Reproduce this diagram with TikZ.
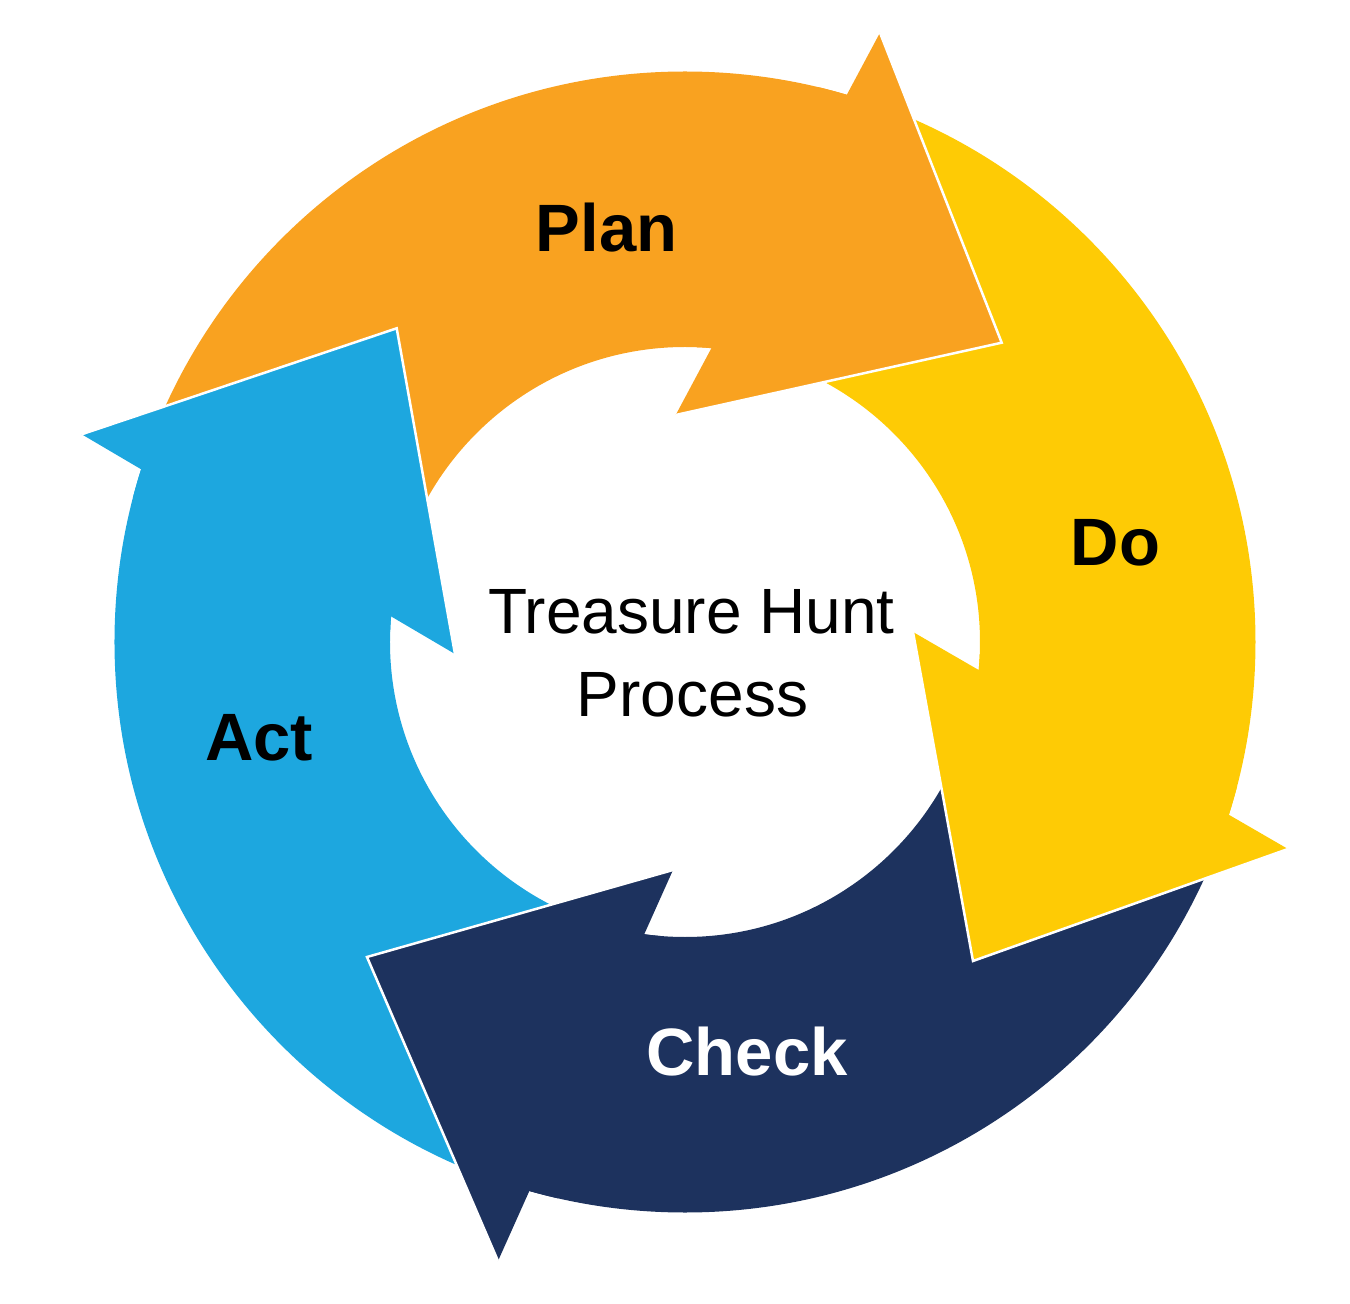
\documentclass[tikz,border=0pt]{standalone}
\usepackage{fontspec}
\setmainfont{Liberation Sans}
\usetikzlibrary{calc}
\definecolor{planc}{HTML}{F9A220}
\definecolor{doc}{HTML}{FECB05}
\definecolor{checkc}{HTML}{1D325E}
\definecolor{actc}{HTML}{1DA7DF}
\begin{document}
\begin{tikzpicture}[x=1pt,y=1pt,
  lbl/.style={anchor=base, inner sep=0pt, font=\fontsize{67}{80}\selectfont\bfseries},
  ctr/.style={anchor=base, inner sep=0pt, font=\fontsize{64}{82}\selectfont},
  headedge/.style={draw=white, line width=2.5pt, line join=miter},
  ring/.style={even odd rule}]
\useasboundingbox (-685,-662) rectangle (665,642);
\def\Ro{570.5}
\def\Ri{295}
% arrowhead vertices: outer barb, tip, inner barb
\coordinate (plan-Bo) at (195,609.3);
\coordinate (plan-T)  at (316.7,299.3);
\coordinate (plan-Bi) at (-9.3,227);
\coordinate (do-Bo) at (603,-207);
\coordinate (do-T)  at (288,-319);
\coordinate (do-Bi) at (228,10);
\coordinate (check-Bo) at (-187,-619);
\coordinate (check-T)  at (-318,-315);
\coordinate (check-Bi) at (-12,-228);
\coordinate (act-Bo) at (-603.3,207.7);
\coordinate (act-T)  at (-288.3,313.7);
\coordinate (act-Bi) at (-230,-12);
% bodies: ring between previous head base and own head base
\foreach \n/\p/\c/\f in {plan/act/planc/117, do/plan/doc/27, check/do/checkc/-63, act/check/actc/-153}{
  \begin{scope}
    \clip (\p-Bi) -- ($(\p-Bi)!2!(\p-Bo)$) -- (\f:1500) -- ($(\n-Bi)!2!(\n-Bo)$) -- (\n-Bi) -- (0,0) -- cycle;
    \fill[\c, ring] (0,0) circle[radius=\Ro] (0,0) circle[radius=\Ri];
  \end{scope}
}
% heads on top, with a white edge
\foreach \n/\c in {plan/planc, do/doc, check/checkc, act/actc}{
  \begin{scope}
    \clip (\n-Bi) -- (\n-T) -- (\n-Bo) -- ($(0,0)!1!3:(\n-Bo)$) -- ($(0,0)!1!3:(\n-Bi)$) -- cycle;
    \fill[\c, ring] (0,0) circle[radius=\Ro] (0,0) circle[radius=\Ri];
  \end{scope}
  \fill[\c] (\n-Bo) -- (\n-T) -- (\n-Bi) -- cycle;
  \draw[headedge] (\n-Bo) -- (\n-T) -- (\n-Bi);
}
\node[lbl, text=black] (plan) at (-78.5,390) {Plan};
\node[lbl, text=black] (do) at (430.5,76) {Do};
\node[lbl, text=white] (check) at (62,-433) {Check};
\node[lbl, text=black] (act) at (-426,-118) {Act};
\node[ctr, text=black] (title1) at (6.5,8) {Treasure Hunt};
\node[ctr, text=black] (title2) at (7.5,-74) {Process};
\end{tikzpicture}
\end{document}
